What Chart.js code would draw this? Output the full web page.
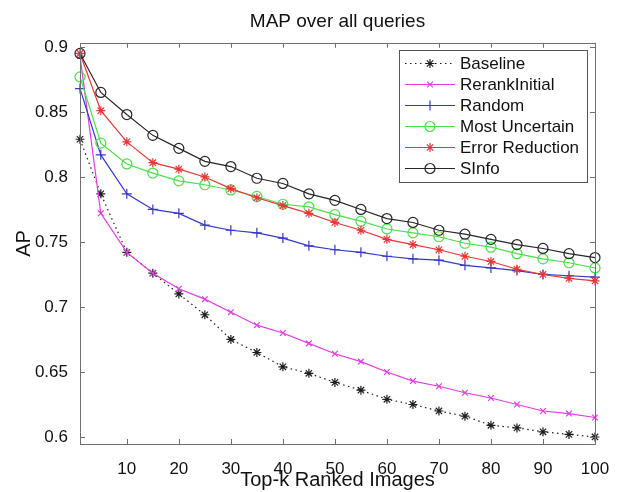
<!DOCTYPE html>
<html>
<head>
<meta charset="utf-8">
<script src="https://cdn.jsdelivr.net/npm/chart.js@4.4.1/dist/chart.umd.min.js"></script>
<style>
  html, body { margin: 0; padding: 0; background: #fff; }
  #wrap { width: 621px; height: 492px; }
</style>
</head>
<body>
<div id="wrap"><canvas id="map-chart" width="621" height="492"></canvas></div>
<script>
// top-k positions where AP was measured
const topK = [1, 5, 10, 15, 20, 25, 30, 35, 40, 45, 50, 55, 60, 65, 70, 75, 80, 85, 90, 95, 100];

const baseline       = [0.829, 0.787, 0.742, 0.726, 0.710, 0.694, 0.675, 0.665, 0.654, 0.649, 0.642, 0.636, 0.629, 0.625, 0.620, 0.616, 0.609, 0.607, 0.604, 0.602, 0.600];
const rerankInitial  = [0.893, 0.772, 0.742, 0.726, 0.714, 0.706, 0.696, 0.686, 0.680, 0.672, 0.664, 0.658, 0.650, 0.643, 0.639, 0.634, 0.630, 0.625, 0.620, 0.618, 0.615];
const random         = [0.868, 0.817, 0.787, 0.775, 0.772, 0.763, 0.759, 0.757, 0.753, 0.747, 0.744, 0.742, 0.739, 0.737, 0.736, 0.732, 0.730, 0.728, 0.725, 0.724, 0.723];
const mostUncertain  = [0.877, 0.826, 0.810, 0.803, 0.797, 0.794, 0.790, 0.785, 0.779, 0.777, 0.771, 0.766, 0.760, 0.757, 0.754, 0.749, 0.746, 0.741, 0.737, 0.734, 0.730];
const errorReduction = [0.895, 0.851, 0.827, 0.811, 0.806, 0.800, 0.791, 0.784, 0.778, 0.772, 0.765, 0.759, 0.752, 0.748, 0.744, 0.739, 0.735, 0.729, 0.725, 0.722, 0.720];
const sInfo          = [0.895, 0.865, 0.848, 0.832, 0.822, 0.812, 0.808, 0.799, 0.795, 0.787, 0.782, 0.775, 0.768, 0.765, 0.759, 0.756, 0.752, 0.748, 0.745, 0.741, 0.738];

const seriesNames = ['Baseline', 'RerankInitial', 'Random', 'Most Uncertain', 'Error Reduction', 'SInfo'];
const xTicks = [10, 20, 30, 40, 50, 60, 70, 80, 90, 100];
const yTicks = [0.6, 0.65, 0.7, 0.75, 0.8, 0.85, 0.9];

const FONT = '"Liberation Sans", Arial, Helvetica, sans-serif';

const styles = [
    { color: '#1e1e1e', point: 'star',     radius: 4.5, dash: [1.5, 3.5] },
    { color: '#e03ce0', point: 'crossRot', radius: 4,   dash: [] },
    { color: '#3636cc', point: 'cross',    radius: 5,   dash: [] },
    { color: '#4ddc4d', point: 'circle',   radius: 5,   dash: [] },
    { color: '#e63636', point: 'star',     radius: 4.5, dash: [] },
    { color: '#262626', point: 'circle',   radius: 5,   dash: [] }
];

const allSeries = [baseline, rerankInitial, random, mostUncertain, errorReduction, sInfo];

const datasets = allSeries.map(function(values, i) {
    const s = styles[i];
    return {
        label: seriesNames[i],
        data: values.map(function(v, j) { return { x: topK[j], y: v }; }),
        borderColor: s.color,
        borderWidth: 1.2,
        borderDash: s.dash,
        pointStyle: s.point,
        pointRadius: s.radius,
        pointBorderColor: s.color,
        pointBackgroundColor: 'rgba(0,0,0,0)',
        pointBorderWidth: 1.2,
        tension: 0,
        clip: false,
        order: allSeries.length - 1 - i
    };
});

function drawMarker(ctx, style, x, y, r, color) {
    ctx.save();
    ctx.strokeStyle = color;
    ctx.lineWidth = 1.2;
    ctx.setLineDash([]);
    ctx.beginPath();
    if (style === 'circle') {
        ctx.arc(x, y, r, 0, Math.PI * 2);
    } else {
        if (style === 'cross' || style === 'star') {
            ctx.moveTo(x - r, y); ctx.lineTo(x + r, y);
            ctx.moveTo(x, y - r); ctx.lineTo(x, y + r);
        }
        if (style === 'crossRot' || style === 'star') {
            const d = r * 0.7071;
            ctx.moveTo(x - d, y - d); ctx.lineTo(x + d, y + d);
            ctx.moveTo(x - d, y + d); ctx.lineTo(x + d, y - d);
        }
    }
    ctx.stroke();
    ctx.restore();
}

// matlab style box: frame, inward ticks on all sides, legend in the corner
const matlabBox = {
    id: 'matlabBox',
    afterDraw: function(chart) {
        const ctx = chart.ctx;
        const a = chart.chartArea;
        const xs = chart.scales.x;
        const ys = chart.scales.y;
        const tick = 5;

        ctx.save();
        ctx.strokeStyle = '#707070';
        ctx.lineWidth = 1;
        ctx.setLineDash([]);
        ctx.strokeRect(Math.round(a.left) + 0.5, Math.round(a.top) + 0.5,
                       Math.round(a.right - a.left), Math.round(a.bottom - a.top));
        ctx.beginPath();
        xTicks.forEach(function(v) {
            const px = Math.round(xs.getPixelForValue(v)) + 0.5;
            ctx.moveTo(px, a.bottom); ctx.lineTo(px, a.bottom - tick);
            ctx.moveTo(px, a.top); ctx.lineTo(px, a.top + tick);
        });
        yTicks.forEach(function(v) {
            const py = Math.round(ys.getPixelForValue(v)) + 0.5;
            ctx.moveTo(a.left, py); ctx.lineTo(a.left + tick, py);
            ctx.moveTo(a.right, py); ctx.lineTo(a.right - tick, py);
        });
        ctx.stroke();

        // legend
        const w = 188, rowH = 21;
        const left = Math.round(a.right - 8 - w);
        const top = Math.round(a.top + 7);
        const h = rowH * datasets.length + 6;
        ctx.fillStyle = '#fff';
        ctx.fillRect(left, top, w, h);
        ctx.strokeStyle = '#555';
        ctx.strokeRect(left + 0.5, top + 0.5, w, h);

        ctx.font = '17px ' + FONT;
        ctx.textBaseline = 'middle';
        ctx.textAlign = 'left';
        chart.data.datasets.forEach(function(ds, i) {
            const cy = top + 13.5 + i * rowH;
            ctx.save();
            ctx.strokeStyle = ds.borderColor;
            ctx.lineWidth = 1.2;
            ctx.setLineDash(ds.borderDash || []);
            ctx.beginPath();
            ctx.moveTo(left + 6, cy);
            ctx.lineTo(left + 56, cy);
            ctx.stroke();
            ctx.restore();
            drawMarker(ctx, ds.pointStyle, left + 31, cy, ds.pointRadius, ds.pointBorderColor);
            ctx.fillStyle = '#111';
            ctx.fillText(ds.label, left + 61, cy + 1);
        });
        ctx.restore();
    }
};

new Chart(document.getElementById('map-chart').getContext('2d'), {
    type: 'line',
    data: { datasets: datasets },
    options: {
        responsive: false,
        animation: false,
        layout: { padding: { left: 0, right: 26, top: 0, bottom: 0 } },
        plugins: {
            legend: { display: false },
            tooltip: { enabled: false },
            title: {
                display: true,
                text: 'MAP over all queries',
                fullSize: false,
                color: '#111',
                font: { family: FONT, size: 19, weight: 'normal' },
                padding: { top: 10, bottom: 10 }
            }
        },
        scales: {
            x: {
                type: 'linear',
                min: 1,
                max: 100,
                afterBuildTicks: function(s) { s.ticks = xTicks.map(function(v) { return { value: v }; }); },
                afterFit: function(s) { s.height = 48; },
                grid: { display: false },
                border: { display: false },
                ticks: {
                    color: '#111',
                    padding: 7,
                    maxRotation: 0,
                    autoSkip: false,
                    font: { family: FONT, size: 17 }
                },
                title: {
                    display: true,
                    text: 'Top-k Ranked Images',
                    color: '#111',
                    font: { family: FONT, size: 20, lineHeight: 1 },
                    padding: { top: 0, bottom: 2 }
                }
            },
            y: {
                type: 'linear',
                min: 0.5946,
                max: 0.9032,
                afterBuildTicks: function(s) { s.ticks = yTicks.map(function(v) { return { value: v }; }); },
                afterFit: function(s) { s.width = 80; },
                grid: { display: false },
                border: { display: false },
                ticks: {
                    color: '#111',
                    padding: 4,
                    font: { family: FONT, size: 17 },
                    callback: function(v) { return String(+v.toFixed(2)); }
                },
                title: {
                    display: true,
                    text: 'AP',
                    color: '#111',
                    font: { family: FONT, size: 20, lineHeight: 1.2 },
                    padding: { top: 12, bottom: 0 }
                }
            }
        }
    },
    plugins: [matlabBox]
});
</script>
</body>
</html>
